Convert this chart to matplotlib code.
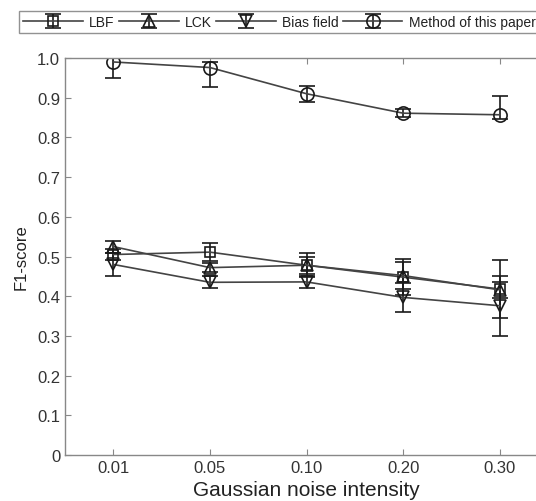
import matplotlib
matplotlib.use("Agg")
import matplotlib.pyplot as plt
import numpy as np

plt.rcParams['font.family'] = ['Liberation Sans', 'DejaVu Sans']

noise_labels = ['0.01', '0.05', '0.10', '0.20', '0.30']

lbf = [0.505, 0.511, 0.478, 0.448, 0.418]
lbf_err = [0.015, 0.022, 0.022, 0.045, 0.073]

lck = [0.525, 0.472, 0.478, 0.452, 0.416]
lck_err = [0.015, 0.012, 0.030, 0.035, 0.020]

bias = [0.480, 0.435, 0.436, 0.397, 0.376]
bias_err = [0.030, 0.015, 0.015, 0.036, 0.075]

ours = [0.990, 0.976, 0.910, 0.861, 0.857]
ours_err_low = [0.040, 0.048, 0.020, 0.010, 0.010]
ours_err_high = [0.010, 0.015, 0.020, 0.010, 0.047]

W, H = 536, 502
fig = plt.figure(figsize=(W / 100, H / 100), dpi=100)
ax = fig.add_axes([65 / W, (H - 456) / H, (548 - 65) / W, (456 - 59) / H])

x = np.arange(1, len(noise_labels) + 1)
lc = '#444444'
common = dict(color=lc, lw=1.2, mfc='none', mec='#1a1a1a', mew=1.2,
              capsize=6, elinewidth=1.2, ecolor='#1a1a1a', capthick=1.2)

ax.errorbar(x, lbf, yerr=lbf_err, marker='s', ms=7, label='LBF', **common)
ax.errorbar(x, lck, yerr=lck_err, marker='^', ms=8, label='LCK', **common)
ax.errorbar(x, bias, yerr=bias_err, marker='v', ms=8, label='Bias field', **common)
ax.errorbar(x, ours, yerr=[ours_err_low, ours_err_high], marker='o', ms=9.5,
            label='Method of this paper', **common)

ax.set_xlim(0.5, 5.5)
ax.set_ylim(0, 1.0)
ax.set_xticks(x)
ax.set_xticklabels(noise_labels)
ax.set_yticks(np.arange(0, 1.01, 0.1))
ax.set_yticklabels(['0'] + [f'{v:.1f}' for v in np.arange(0.1, 1.01, 0.1)])
ax.tick_params(direction='in', length=4, width=0.8, colors='#888888',
               labelcolor='#333333', labelsize=12, top=True, right=True)
for s in ax.spines.values():
    s.set_color('#888888')
    s.set_linewidth(1.0)

ax.set_xlabel('Gaussian noise intensity', fontsize=15, color='#222222', labelpad=4)
ax.set_ylabel('F1-score', fontsize=12, color='#222222', labelpad=6)

handles, labels = ax.get_legend_handles_labels()
leg = fig.legend(handles, labels, loc='upper left',
                 bbox_to_anchor=(19 / W, 1 - 12 / H), ncol=4,
                 fontsize=10, frameon=True, fancybox=False,
                 handlelength=4.3, handletextpad=0.45, columnspacing=0.3,
                 borderpad=0.3, borderaxespad=0)
leg.get_frame().set_edgecolor('#777777')
leg.get_frame().set_linewidth(1.0)
for t in leg.get_texts():
    t.set_color('#222222')

fig.savefig('out.png', dpi=100)
